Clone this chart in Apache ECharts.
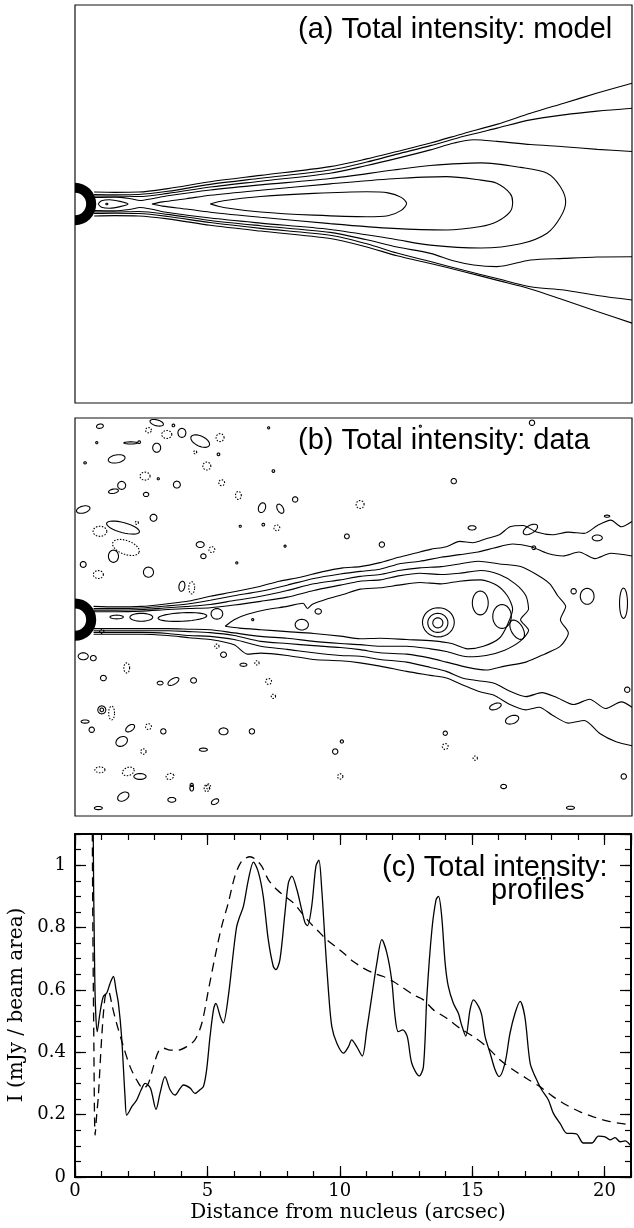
<!DOCTYPE html>
<html>
<head>
<meta charset="utf-8">
<script src="https://cdn.jsdelivr.net/npm/echarts@6/dist/echarts.min.js"></script>
<style>
  html, body { margin: 0; background: #fff; }
  #chart { width: 634px; height: 1228px; }
</style>
</head>
<body>
<div id="chart"></div>
<script>
// ---- panel (c): intensity profiles along the jet, x in arcsec, I in mJy/beam area ----
var obsProfile = [
  [0.62,2.5],[0.68,1.2],[0.75,0.62],[0.84,0.466],[0.95,0.53],[1.07,0.579],[1.2,0.59],[1.32,0.62],[1.45,0.643],
  [1.55,0.6],[1.64,0.557],[1.76,0.45],[1.89,0.257],[1.95,0.198],[2.05,0.21],[2.14,0.225],[2.33,0.247],[2.5,0.28],
  [2.65,0.3],[2.85,0.285],[3.06,0.217],[3.21,0.268],[3.4,0.322],[3.59,0.28],[3.78,0.263],[3.97,0.284],[4.09,0.295],
  [4.35,0.285],[4.53,0.268],[4.72,0.28],[4.85,0.29],[4.97,0.343],[5.1,0.45],[5.23,0.536],[5.32,0.557],[5.49,0.514],
  [5.6,0.494],[5.79,0.579],[5.98,0.72],[6.1,0.8],[6.2,0.83],[6.36,0.868],[6.55,0.954],[6.74,1.01],[6.93,0.976],
  [7.11,0.9],[7.3,0.761],[7.49,0.675],[7.59,0.665],[7.74,0.697],[7.93,0.847],[8.06,0.943],[8.19,0.965],[8.38,0.922],
  [8.56,0.858],[8.69,0.815],[8.78,0.806],[8.94,0.868],[9.1,0.997],[9.21,1.016],[9.32,0.922],[9.44,0.761],[9.57,0.6],
  [9.7,0.482],[9.89,0.429],[10.14,0.397],[10.33,0.418],[10.45,0.44],[10.64,0.418],[10.85,0.388],[11.02,0.472],
  [11.21,0.579],[11.4,0.686],[11.59,0.761],[11.78,0.718],[11.96,0.632],[12.09,0.514],[12.21,0.466],[12.38,0.472],
  [12.55,0.45],[12.72,0.365],[13.0,0.324],[13.16,0.354],[13.29,0.579],[13.48,0.793],[13.64,0.89],[13.73,0.9],
  [13.85,0.836],[13.98,0.686],[14.1,0.611],[14.29,0.557],[14.48,0.525],[14.6,0.488],[14.76,0.452],[14.92,0.536],
  [15.05,0.568],[15.24,0.547],[15.36,0.52],[15.49,0.45],[15.68,0.397],[15.87,0.343],[16.02,0.322],[16.24,0.365],
  [16.43,0.461],[16.62,0.525],[16.81,0.563],[16.99,0.514],[17.19,0.365],[17.38,0.322],[17.63,0.279],[17.88,0.247],
  [18.07,0.204],[18.32,0.172],[18.58,0.14],[18.77,0.14],[18.95,0.138],[19.2,0.109],[19.52,0.109],[19.77,0.131],
  [20.02,0.129],[20.21,0.119],[20.4,0.126],[20.59,0.113],[20.78,0.116],[20.97,0.102]
];
var modelProfile = [
  [0.6,2.5],[0.66,1.0],[0.71,0.45],[0.76,0.134],[0.82,0.2],[0.88,0.257],[1.01,0.45],[1.13,0.574],[1.22,0.595],
  [1.3,0.59],[1.4,0.55],[1.57,0.493],[1.83,0.418],[2.08,0.354],[2.33,0.311],[2.58,0.284],[2.77,0.3],[2.96,0.354],
  [3.15,0.402],[3.34,0.413],[3.59,0.407],[3.9,0.407],[4.22,0.418],[4.53,0.44],[4.79,0.493],[5.04,0.6],[5.29,0.707],
  [5.54,0.804],[5.79,0.879],[6.04,0.965],[6.3,1.013],[6.61,1.027],[6.8,1.02],[7.05,0.997],[7.3,0.954],[7.62,0.922],
  [7.93,0.9],[8.25,0.879],[8.56,0.847],[8.88,0.815],[9.19,0.788],[9.51,0.761],[9.82,0.74],[10.14,0.718],[10.51,0.691],
  [10.89,0.67],[11.27,0.654],[11.65,0.643],[12.02,0.627],[12.4,0.606],[12.78,0.584],[13.16,0.568],[13.54,0.536],
  [14.04,0.509],[14.54,0.477],[15.05,0.45],[15.55,0.418],[16.06,0.375],[16.56,0.343],[17.06,0.316],[17.57,0.289],
  [18.07,0.257],[18.58,0.23],[19.08,0.209],[19.58,0.193],[20.09,0.18],[20.59,0.172],[21.0,0.167]
];

// ---- panel (a): model contours, [x arcsec, y arcsec] ----
var modelL1Up = [[0.72,0.45],[1.5,0.44],[2.4,0.45],[3.5,0.58],[5.1,0.84],[7,1.08],[9.62,1.41],[11,1.7],[12.14,1.98],[13.4,2.3],[14.66,2.66],[15.9,3.0],[17.17,3.42],[18.43,3.8],[19.69,4.18],[21,4.55]];
var modelL2Up = [[0.72,0.36],[1.5,0.35],[2.4,0.36],[3.5,0.48],[5.1,0.74],[7,0.97],[9.62,1.28],[11,1.58],[12.14,1.88],[13.4,2.2],[14.66,2.55],[15.91,2.86],[17.17,3.17],[18.43,3.36],[19.69,3.5],[21,3.61]];
var modelL3Up = [[0.72,0.3],[1.5,0.3],[2.4,0.28],[3.5,0.4],[5.1,0.64],[7,0.86],[9.62,1.16],[11,1.45],[12.14,1.72],[13.4,2.04],[14.3,2.3],[15.03,2.42],[15.91,2.36],[17.17,2.24],[18.43,2.16],[19.69,2.06],[21,1.98]];
var modelL1Low = [[0.72,-0.45],[1.5,-0.44],[2.4,-0.45],[3.5,-0.56],[5.1,-0.8],[7,-1.02],[9.62,-1.3],[11,-1.62],[12.14,-1.95],[13.4,-2.24],[14.66,-2.55],[15.9,-2.87],[17.17,-3.2],[18.43,-3.62],[19.69,-4.05],[21,-4.49]];
var modelL2Low = [[0.72,-0.36],[1.5,-0.35],[2.4,-0.36],[3.5,-0.47],[5.1,-0.7],[7,-0.92],[9.62,-1.18],[11,-1.5],[12.14,-1.85],[13.4,-2.17],[14.66,-2.5],[15.91,-2.81],[17.17,-3.12],[18.43,-3.24],[19.69,-3.45],[21,-3.62]];
var modelL3Low = [[0.72,-0.3],[1.5,-0.3],[2.4,-0.28],[3.5,-0.39],[5.1,-0.62],[7,-0.82],[9.62,-1.07],[11,-1.35],[12.14,-1.62],[13.4,-1.86],[14.3,-2.15],[15.03,-2.3],[15.91,-2.36],[17.17,-2.11],[18.43,-2.05],[19.69,-2.0],[21,-1.99]];
var modelL4 = [[0.72,0.25],[1.5,0.26],[2.1,0.2],[2.45,0.13],[2.9,0.2],[3.5,0.31],[5.1,0.53],[7,0.72],[9.62,0.96],[12,1.28],[13.4,1.45],[15.3,1.55],[16.8,1.38],[17.8,1.16],[18.3,0.65],[18.5,0.08],
  [18.3,-0.5],[17.8,-1.1],[16.8,-1.5],[15.3,-1.66],[13.4,-1.55],[12,-1.32],[9.62,-0.96],[7,-0.72],[5.1,-0.53],[3.5,-0.32],[2.9,-0.2],[2.45,-0.13],[2.1,-0.2],[1.5,-0.26],[0.72,-0.25]];
var modelL5 = [[2.9,0],[3.3,0.08],[4.2,0.2],[5.1,0.33],[7,0.52],[9.62,0.76],[12,0.95],[14,1.03],[15.3,0.9],[15.9,0.78],[16.4,0.4],[16.5,0.08],[16.4,-0.3],[15.9,-0.67],[15.3,-0.85],[14,-0.98],[12,-0.92],[9.62,-0.74],[7,-0.5],[5.1,-0.31],[4.2,-0.19],[3.3,-0.08],[2.9,0]];
var modelL6 = [[5.1,0],[5.6,0.12],[7,0.28],[9,0.4],[11,0.46],[11.8,0.42],[12.3,0.25],[12.5,0.02],[12.3,-0.24],[11.8,-0.44],[11,-0.48],[9,-0.42],[7,-0.3],[5.6,-0.13],[5.1,0]];
var modelKnot = [[0.87,0],[1.0,0.12],[1.3,0.16],[1.7,0.1],[2.0,0],[1.7,-0.1],[1.3,-0.16],[1.0,-0.12],[0.87,0]];
var modelSpots = [[1.2,0,0.04,0.03,0]];
// nucleus: [x, y, inner radius, outer radius]
var nucleusRing = [[0, 0, 0.42, 0.8]];

// ---- panel (b): data contours ----
var dataJ1Up = [[0.7,0.5],[1.5,0.48],[2.5,0.5],[3.5,0.6],[4.3,0.7],[5.1,0.88],[6,1.05],[7,1.26],[7.7,1.45],[8.5,1.6],[9.3,1.8],[10.1,1.95],[10.75,2.0],[11.5,2.15],[12.2,2.35],[12.8,2.5],[13.4,2.65],[14,2.75],[14.5,2.95],[15,2.9],[15.5,3.05],[16,3.2],[16.4,3.5],[16.9,3.55],[17.4,3.3],[18,3.2],[18.6,3.3],[19.2,3.25],[19.7,3.55],[20.2,3.75],[20.6,3.5],[21,3.7]];
var dataJ1Low = [[0.7,-0.55],[1.5,-0.55],[2.5,-0.55],[3.5,-0.6],[4.3,-0.68],[5.1,-0.75],[6,-0.95],[6.5,-1.3],[7,-1.26],[8,-1.35],[9,-1.5],[10,-1.55],[10.75,-1.63],[11.5,-1.75],[12.5,-1.95],[13.4,-2.1],[14,-2.2],[14.6,-2.45],[15.2,-2.7],[15.8,-2.85],[16.4,-3.2],[17,-3.4],[17.5,-3.3],[18,-3.6],[18.6,-3.9],[19.2,-3.8],[19.8,-4.3],[20.4,-4.6],[21,-4.75]];
var dataJ2Up = [[0.7,0.42],[1.5,0.42],[2.5,0.44],[3.5,0.52],[4.3,0.6],[5.1,0.73],[6,0.9],[7,1.07],[8,1.3],[9,1.55],[10,1.72],[10.75,1.82],[11.5,1.9],[12.2,2.1],[13,2.2],[13.8,2.35],[14.5,2.45],[15.2,2.55],[15.8,2.7],[16.5,2.85],[17.2,2.75],[17.8,2.5],[18.4,2.4],[19,2.55],[19.6,2.3],[20.2,2.5],[21,2.4]];
var dataJ2Low = [[0.7,-0.48],[1.5,-0.48],[2.5,-0.48],[3.5,-0.52],[4.3,-0.6],[5.1,-0.63],[6,-0.75],[7,-1.0],[8,-1.12],[9,-1.25],[10,-1.35],[10.75,-1.38],[11.5,-1.5],[12.5,-1.6],[13.4,-1.8],[14,-1.95],[14.6,-2.2],[15.2,-2.3],[15.8,-2.4],[16.4,-2.7],[17,-2.9],[17.6,-2.75],[18.2,-2.95],[18.8,-3.2],[19.4,-3.0],[20,-3.35],[20.6,-3.1],[21,-3.3]];
var dataJ3 = [[0.7,0.36],[1.5,0.36],[2.5,0.38],[3.5,0.45],[4.3,0.5],[5.1,0.57],[6,0.72],[7,0.88],[8,1.1],[9,1.35],[10,1.5],[10.75,1.63],[11.5,1.7],[12.2,1.85],[13,1.95],[13.8,2.0],[14.5,2.1],[15.2,2.2],[16,2.1],[16.8,2.0],[17.4,1.7],[17.9,1.35],[18.2,0.9],[18.5,0.5],[18.3,0.0],[18.6,-0.5],[18.3,-1.0],[17.7,-1.3],[17,-1.6],[16.2,-1.75],[15.5,-1.9],[14.8,-1.8],[14,-1.6],[13.4,-1.45],[12.5,-1.3],[11.5,-1.25],[10.75,-1.13],[10,-1.05],[9,-0.98],[8,-0.9],[7,-0.82],[6,-0.6],[5.1,-0.49],[4.3,-0.45],[3.5,-0.42],[2.5,-0.42],[1.5,-0.42],[0.7,-0.42]];
var dataJ4 = [[0.7,0.3],[1.5,0.3],[2.5,0.32],[3.5,0.38],[4.3,0.42],[5.1,0.45],[6,0.55],[7,0.69],[8,0.85],[9,1.1],[10,1.3],[10.75,1.45],[11.5,1.5],[12.2,1.65],[13,1.75],[13.8,1.7],[14.5,1.75],[15.3,1.85],[16,1.7],[16.6,1.35],[17.0,0.9],[17.1,0.4],[16.8,0.0],[17.1,-0.4],[16.8,-0.8],[16.2,-1.15],[15.5,-1.35],[14.8,-1.4],[14,-1.2],[13.4,-1.1],[12.5,-1.0],[11.5,-1.0],[10.75,-0.94],[10,-0.9],[9,-0.82],[8,-0.7],[7,-0.63],[6,-0.5],[5.1,-0.38],[4.3,-0.36],[3.5,-0.34],[2.5,-0.34],[1.5,-0.34],[0.7,-0.34]];
var dataJ5 = [[5.66,-0.25],[6.0,0.0],[6.5,0.2],[7.23,0.38],[8.0,0.5],[8.6,0.62],[8.76,0.42],[8.95,0.58],[9.5,0.78],[10.1,0.95],[10.75,1.15],[11.5,1.2],[12.2,1.3],[13,1.4],[13.8,1.35],[14.5,1.45],[15.3,1.5],[15.9,1.3],[16.3,0.9],[16.5,0.4],[16.3,-0.2],[16,-0.7],[15.4,-1.0],[14.8,-1.1],[14.2,-0.9],[13.5,-0.8],[12.5,-0.75],[11.5,-0.7],[10.75,-0.72],[10,-0.62],[9,-0.52],[8,-0.45],[7,-0.38],[6.2,-0.32],[5.66,-0.25]];
// small closed contours: [x, y, half-length, half-width (arcsec), tilt deg]
var dataPosBlobs = [
  [1.57,0.1,0.25,0.07,0],[2.5,0.09,0.43,0.15,0],[4.05,0.1,0.92,0.16,3],[5.35,0.22,0.22,0.2,0],[6.7,0.0,0.04,0.04,0],
  [8.55,-0.19,0.25,0.2,0],[9.17,0.31,0.12,0.1,0],
  [13.68,-0.12,0.19,0.19,0],[13.68,-0.12,0.38,0.36,0],[13.7,-0.1,0.6,0.55,0],[15.28,0.63,0.3,0.45,0],[16.1,0.12,0.35,0.45,0],[16.67,-0.38,0.22,0.4,30],
  [0.94,7.29,0.13,0.08,10],[3.08,7.42,0.26,0.11,-15],[3.71,7.32,0.05,0.05,0],[4.03,7.04,0.15,0.17,0],[4.72,6.73,0.38,0.19,-25],
  [0.82,6.67,0.04,0.04,0],[2.1,6.66,0.26,0.04,0],[2.42,6.69,0.05,0.05,0],[3.08,6.48,0.15,0.17,0],[5.41,6.23,0.05,0.05,0],
  [1.57,6.06,0.32,0.15,10],[0.38,5.91,0.05,0.04,0],[7.48,5.6,0.05,0.05,0],[7.3,7.23,0.04,0.04,0],[3.14,5.31,0.04,0.04,0],
  [1.76,5.06,0.15,0.15,0],[1.45,4.84,0.19,0.08,10],[3.84,5.09,0.13,0.13,0],[2.68,4.72,0.1,0.08,0],[8.3,4.53,0.1,0.1,0],
  [7.05,4.22,0.13,0.19,-20],[7.74,4.18,0.11,0.19,30],[0.31,4.15,0.26,0.13,15],[2.96,3.84,0.13,0.13,0],[1.81,3.47,0.64,0.19,-15],
  [1.45,2.39,0.19,0.23,0],[4.72,2.83,0.15,0.11,0],[4.84,2.39,0.1,0.09,0],[6.23,3.52,0.04,0.04,0],[7.1,3.58,0.05,0.05,0],
  [7.92,2.77,0.04,0.04,0],[6.1,2.14,0.04,0.04,0],[0.31,2.08,0.11,0.11,0],[2.77,1.79,0.19,0.19,-10],[4.03,1.26,0.11,0.19,-10],
  [0.31,-1.38,0.19,0.13,0],[0.69,-1.45,0.11,0.1,0],[5.6,-1.32,0.11,0.1,0],[6.35,-1.7,0.13,0.06,0],[1.07,-2.2,0.11,0.1,0],
  [3.71,-2.33,0.23,0.11,30],[3.21,-2.39,0.11,0.07,0],[4.47,-2.29,0.11,0.1,0],[1.01,-3.4,0.15,0.15,0],[1.01,-3.4,0.07,0.07,0],
  [0.38,-3.84,0.15,0.06,0],[0.63,-4.15,0.1,0.1,0],[2.08,-4.09,0.19,0.11,35],[3.33,-4.21,0.1,0.1,0],[5.6,-4.21,0.17,0.13,0],
  [6.67,-4.21,0.1,0.1,0],[1.76,-4.59,0.23,0.17,30],[4.84,-4.9,0.15,0.06,0],[9.81,-4.97,0.1,0.1,0],[2.45,-5.91,0.23,0.11,0],
  [4.4,-6.35,0.07,0.11,0],[1.82,-6.67,0.23,0.15,30],[0.88,-7.1,0.15,0.06,0],[3.65,-6.79,0.15,0.09,0],[4.4,-6.23,0.06,0.06,0],
  [5.28,-6.86,0.15,0.09,30],[17.23,7.42,0.1,0.1,0],[13.02,7.29,0.04,0.04,0],[14.28,5.22,0.1,0.1,0],[20.06,3.9,0.1,0.04,0],
  [10.25,3.14,0.09,0.09,0],[11.57,2.83,0.1,0.1,0],[14.97,3.46,0.15,0.08,0],[17.17,3.4,0.3,0.15,30],[19.69,3.08,0.19,0.11,0],
  [17.3,2.71,0.07,0.07,0],[18.8,1.07,0.1,0.1,0],[19.31,0.88,0.26,0.3,0],[20.68,0.62,0.15,0.57,0],[20.82,-2.64,0.1,0.1,0],
  [15.85,-3.27,0.23,0.11,20],[16.48,-3.77,0.26,0.15,20],[13.96,-4.28,0.08,0.08,0],[10.06,-4.59,0.06,0.06,0],[20.69,-5.91,0.1,0.1,0],
  [16.16,-6.29,0.11,0.08,0],[18.68,-7.09,0.15,0.06,0]
];
var dataNegBlobs = [
  [3.46,6.98,0.19,0.15,0],[2.77,7.14,0.11,0.1,0],[5.47,6.86,0.15,0.15,0],[4.53,6.31,0.06,0.06,0],[4.97,5.79,0.15,0.15,0],
  [2.64,5.41,0.19,0.15,0],[5.53,5.16,0.11,0.11,0],[6.16,4.68,0.11,0.15,0],[2.33,3.65,0.06,0.06,0],[0.94,3.33,0.26,0.19,0],
  [1.92,2.72,0.53,0.26,-20],[5.16,2.64,0.11,0.11,0],[7.61,3.46,0.11,0.11,0],[0.88,1.7,0.19,0.15,0],[4.4,1.2,0.11,0.23,0],
  [1.01,-0.44,0.08,0.08,0],[5.35,-1.0,0.08,0.08,0],[6.86,-1.63,0.08,0.08,0],[1.95,-1.82,0.11,0.19,0],[7.3,-2.33,0.11,0.11,0],
  [7.48,-2.89,0.08,0.08,0],[1.38,-3.52,0.11,0.26,0],[2.77,-4.03,0.11,0.11,0],[2.58,-4.97,0.1,0.1,0],[0.94,-5.66,0.19,0.11,0],
  [2.01,-5.72,0.23,0.15,20],[3.58,-5.91,0.15,0.11,20],[5.03,-6.29,0.08,0.1,0],[10.75,4.34,0.15,0.15,0],[13.96,-4.78,0.11,0.11,0],
  [15.09,-5.22,0.08,0.08,0],[10.0,-5.91,0.1,0.1,0],[4.97,-6.35,0.1,0.13,0]
];

var xTicks = [0, 5, 10, 15, 20];
var yTicks = [0, 0.2, 0.4, 0.6, 0.8, 1];

var chart = echarts.init(document.getElementById('chart'));

function contour(points, idx, smooth) {
    return {
        type: 'line', xAxisIndex: idx, yAxisIndex: idx, data: points,
        showSymbol: false, silent: true, smooth: smooth,
        lineStyle: {color: '#000', width: 1.1}
    };
}

function renderBlob(dashed) {
    return function (params, api) {
        var c = api.coord([api.value(0), api.value(1)]);
        var s = api.size([api.value(2), api.value(3)]);
        var a = api.value(4) * Math.PI / 180;
        var pts = [];
        for (var i = 0; i < 32; i++) {
            var t = i / 32 * 2 * Math.PI;
            var ex = s[0] * Math.cos(t), ey = s[1] * Math.sin(t);
            pts.push([c[0] + ex * Math.cos(a) - ey * Math.sin(a), c[1] - (ex * Math.sin(a) + ey * Math.cos(a))]);
        }
        return {
            type: 'polygon', shape: {points: pts},
            style: {fill: 'none', stroke: '#000', lineWidth: 1.1, lineDash: dashed ? [1.5, 1.5] : null}
        };
    };
}

function renderRing(params, api) {
    var c = api.coord([api.value(0), api.value(1)]);
    return {
        type: 'ring',
        shape: {cx: c[0], cy: c[1], r0: api.size([api.value(2), 0])[0], r: api.size([api.value(3), 0])[0]},
        style: {fill: '#000'}
    };
}

function blobSeries(data, idx, dashed) {
    return {type: 'custom', xAxisIndex: idx, yAxisIndex: idx, data: data, clip: true, silent: true, renderItem: renderBlob(dashed)};
}

var serifFont = 'DejaVu Serif';
var mapAxisX = {type: 'value', min: 0, max: 21, show: false};

// one side of the profile frame: major ticks (long) or minor ticks (short)
function frameAxis(pos, max, step, major, labels) {
    return {
        gridIndex: 2, type: 'value', min: 0, max: max, interval: step, position: pos,
        axisLine: {show: major, onZero: false, lineStyle: {color: '#000', width: 2}},
        axisTick: {inside: true, length: major ? 11 : 6, lineStyle: {color: '#000', width: 1.2}},
        axisLabel: labels || {show: false},
        splitLine: {show: false}
    };
}

var option = {
    animation: false,
    grid: [
        {left: 75, top: 5, width: 557, height: 398, show: true, borderColor: '#111', borderWidth: 1.2},
        {left: 75, top: 418, width: 557, height: 398, show: true, borderColor: '#111', borderWidth: 1.2},
        {left: 75, top: 834, width: 556, height: 343}
    ],
    xAxis: [
        Object.assign({gridIndex: 0}, mapAxisX),
        Object.assign({gridIndex: 1}, mapAxisX),
        frameAxis('bottom', 21, 5, true, {margin: 5, color: '#000', fontFamily: serifFont, fontSize: 18, showMaxLabel: false,
            formatter: function (v) { return xTicks.indexOf(v) >= 0 ? String(v) : ''; }}),
        frameAxis('bottom', 21, 1, false),
        frameAxis('top', 21, 5, true),
        frameAxis('top', 21, 1, false)
    ],
    yAxis: [
        {gridIndex: 0, type: 'value', min: -7.5, max: 7.5, show: false},
        {gridIndex: 1, type: 'value', min: -7.4, max: 7.6, show: false},
        frameAxis('left', 1.1, 0.2, true, {margin: 9, color: '#000', fontFamily: serifFont, fontSize: 18, showMaxLabel: false,
            formatter: function (v) { var r = Math.round(v * 10) / 10; return yTicks.indexOf(r) >= 0 ? String(r) : ''; }}),
        frameAxis('left', 1.1, 0.05, false),
        frameAxis('right', 1.1, 0.2, true),
        frameAxis('right', 1.1, 0.05, false)
    ],
    series: [
        // (a) model
        contour(modelL1Up, 0, 0.3), contour(modelL2Up, 0, 0.3), contour(modelL3Up, 0, 0.3),
        contour(modelL1Low, 0, 0.3), contour(modelL2Low, 0, 0.3), contour(modelL3Low, 0, 0.3),
        contour(modelL4, 0, 0.3), contour(modelL5, 0, 0.3), contour(modelL6, 0, 0.3), contour(modelKnot, 0, 0.3),
        blobSeries(modelSpots, 0, false),
        {type: 'custom', xAxisIndex: 0, yAxisIndex: 0, data: nucleusRing, clip: true, silent: true, renderItem: renderRing},
        // (b) data
        contour(dataJ1Up, 1, 0.25), contour(dataJ1Low, 1, 0.25), contour(dataJ2Up, 1, 0.25), contour(dataJ2Low, 1, 0.25),
        contour(dataJ3, 1, 0.25), contour(dataJ4, 1, 0.25), contour(dataJ5, 1, 0.25),
        blobSeries(dataPosBlobs, 1, false), blobSeries(dataNegBlobs, 1, true),
        {type: 'custom', xAxisIndex: 1, yAxisIndex: 1, data: nucleusRing, clip: true, silent: true, renderItem: renderRing},
        // (c) profiles
        {type: 'line', xAxisIndex: 2, yAxisIndex: 2, data: obsProfile, showSymbol: false, smooth: 0.3, silent: true,
            lineStyle: {color: '#000', width: 1.3}},
        {type: 'line', xAxisIndex: 2, yAxisIndex: 2, data: modelProfile, showSymbol: false, smooth: 0.3, silent: true,
            lineStyle: {color: '#000', width: 1.3, type: [9, 6]}}
    ],
    graphic: [
        {type: 'text', x: 298, y: 30, style: {text: '(a) Total intensity: model', font: '29px "Liberation Sans", Arial, sans-serif', fill: '#000', textAlign: 'left', textVerticalAlign: 'middle'}},
        {type: 'text', x: 298, y: 441, style: {text: '(b) Total intensity: data', font: '29px "Liberation Sans", Arial, sans-serif', fill: '#000', textAlign: 'left', textVerticalAlign: 'middle'}},
        {type: 'text', x: 382, y: 868, style: {text: '(c) Total intensity:', font: '29px "Liberation Sans", Arial, sans-serif', fill: '#000', textAlign: 'left', textVerticalAlign: 'middle'}},
        {type: 'text', x: 491, y: 891, style: {text: 'profiles', font: '29px "Liberation Sans", Arial, sans-serif', fill: '#000', textAlign: 'left', textVerticalAlign: 'middle'}},
        {type: 'text', x: 348, y: 1213, style: {text: 'Distance from nucleus (arcsec)', font: '20px "DejaVu Serif"', fill: '#000', textAlign: 'center', textVerticalAlign: 'middle'}},
        {type: 'text', x: 17, y: 1005, rotation: Math.PI / 2, style: {text: 'I (mJy / beam area)', font: '20px "DejaVu Serif"', fill: '#000', textAlign: 'center', textVerticalAlign: 'middle'}}
    ]
};

chart.setOption(option);
</script>
</body>
</html>
